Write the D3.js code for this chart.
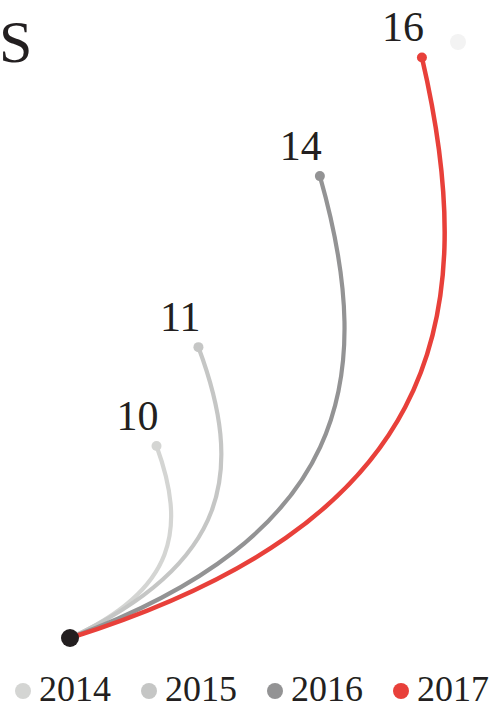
<!DOCTYPE html>
<html>
<head>
<meta charset="utf-8">
<script src="https://cdn.jsdelivr.net/npm/d3@7"></script>
<style>
  body { margin: 0; background: #fff; }
  text { font-family: "Liberation Serif", "Times New Roman", serif; fill: #231f20; }
</style>
</head>
<body>
<div id="chart"></div>
<script>
// data
let years = ["2014", "2015", "2016", "2017"];
let values = [10, 11, 14, 16];
// end point of each arc, in chart units (0-100 on each axis)
let reach = [22.3, 33.1, 64.4, 90.7];
let rise = [32.2, 48.8, 77.5, 97.4];
let maxPoint = { reach: 100, rise: 100 };
let title = "S";

let width = 502, height = 707;

let margin = { top: 42, bottom: 69, left: 70, right: 44 };

let svg = d3.select("#chart")
            .append("svg")
            .attr("width", width)
            .attr("height", height);

let xscale = d3.scaleLinear()
               .domain([0, 100])
               .range([margin.left, width - margin.right]);

let yscale = d3.scaleLinear()
               .domain([0, 100])
               .range([height - margin.bottom, margin.top]);

let color = d3.scaleOrdinal()
              .domain(years)
              .range(["#d4d5d3", "#c5c6c5", "#939394", "#e8403a"]);

let data = years.map((y, i) => ({ year: y, value: values[i], reach: reach[i], rise: rise[i] }));

// cubic curve bent to the right of the chord
function arc(d) {
  let x0 = xscale(0), y0 = yscale(0);
  let x1 = xscale(d.reach), y1 = yscale(d.rise);
  let dx = x1 - x0, dy = y1 - y0;
  let L = Math.sqrt(dx * dx + dy * dy);
  let cx = dx / L, cy = dy / L;   // along chord
  let nx = -cy, ny = cx;          // normal, pointing right
  let p = d3.path();
  p.moveTo(x0, y0);
  p.bezierCurveTo(
    x0 + 0.419 * L * cx + 0.368 * L * nx, y0 + 0.419 * L * cy + 0.368 * L * ny,
    x0 + 0.705 * L * cx + 0.288 * L * nx, y0 + 0.705 * L * cy + 0.288 * L * ny,
    x1, y1);
  return p.toString();
}

svg.append("text")
   .text(title)
   .attr("x", -1)
   .attr("y", 62)
   .attr("font-size", 60);

svg.append("circle")
   .attr("cx", xscale(maxPoint.reach))
   .attr("cy", yscale(maxPoint.rise))
   .attr("r", 8)
   .attr("fill", "#f3f3f3");

svg.selectAll(".arc")
   .data(data)
   .enter()
   .append("path")
   .attr("class", "arc")
   .attr("d", arc)
   .attr("fill", "none")
   .attr("stroke", d => color(d.year))
   .attr("stroke-width", d => d.year == "2017" ? 4.5 : 4.2)
   .attr("stroke-linecap", "round");

svg.selectAll(".end")
   .data(data)
   .enter()
   .append("circle")
   .attr("class", "end")
   .attr("cx", d => xscale(d.reach))
   .attr("cy", d => yscale(d.rise))
   .attr("r", 5)
   .attr("fill", d => color(d.year));

svg.selectAll(".label")
   .data(data)
   .enter()
   .append("text")
   .attr("class", "label")
   .text(d => d.value)
   .attr("x", d => xscale(d.reach) + 2)
   .attr("y", d => yscale(d.rise) - 16)
   .attr("text-anchor", "end")
   .attr("font-size", 42);

svg.append("circle")
   .attr("cx", xscale(0))
   .attr("cy", yscale(0))
   .attr("r", 9)
   .attr("fill", "#231f20");

// legend
let legend = svg.selectAll(".legend")
                .data(years)
                .enter()
                .append("g")
                .attr("class", "legend")
                .attr("transform", (d, i) => `translate(${23 + i * 126}, 691)`);

legend.append("circle")
      .attr("r", 8)
      .attr("fill", d => color(d));

legend.append("text")
      .text(d => d)
      .attr("x", 16)
      .attr("y", 10)
      .attr("font-size", 36);
</script>
</body>
</html>
